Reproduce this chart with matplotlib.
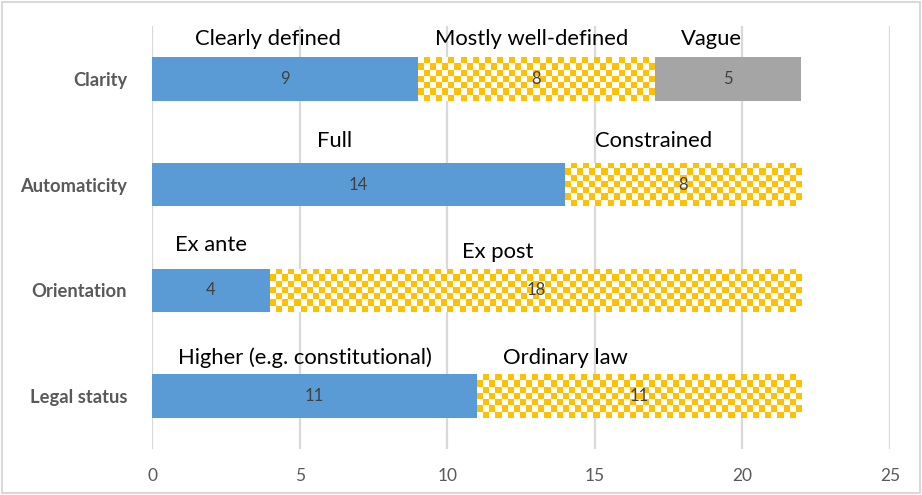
import matplotlib
matplotlib.use('Agg')
import matplotlib.pyplot as plt
from matplotlib.patches import Rectangle
from matplotlib.colors import ListedColormap
import numpy as np

plt.rcParams['font.family'] = ['Lato', 'DejaVu Sans']

categories = ['Clarity', 'Automaticity', 'Orientation', 'Legal status']
clarity = [9, 8, 5]
automaticity = [14, 8]
orientation = [4, 18]
legal_status = [11, 11]
clarity_names = ['Clearly defined', 'Mostly well-defined', 'Vague']
automaticity_names = ['Full', 'Constrained']
orientation_names = ['Ex ante', 'Ex post']
legal_status_names = ['Higher (e.g. constitutional)', 'Ordinary law']

values = [clarity, automaticity, orientation, legal_status]
names = [clarity_names, automaticity_names, orientation_names, legal_status_names]

# where the text boxes sit (x in data units, y offset above bar centre)
name_x = [[3.93, 12.85, 18.95], [6.17, 17.0], [2.0, 11.7], [5.19, 14.0]]
name_dy = [[0.38, 0.38, 0.38], [0.41, 0.41], [0.43, 0.36], [0.36, 0.36]]

blue = '#5b9bd5'
yellow = '#ffc000'
grey = '#a5a5a5'

fig = plt.figure(figsize=(9.22, 4.95), dpi=100)
ax = fig.add_axes([0.1649, 0.0929, 0.8004, 0.8546])

px_per_unit = 738 / 25.0
cell = 6.1 / px_per_unit
bar_h = 0.41
checker_cmap = ListedColormap(['white', yellow])

for i, segs in enumerate(values):
    left = 0
    for j, v in enumerate(segs):
        if j == 1:
            r = ax.barh(i, v, left=left, height=bar_h, color='white', edgecolor='none', zorder=2)[0]
            nx = int(round(v / cell))
            ny = 7
            board = (np.add.outer(np.arange(ny), np.arange(nx)) % 2)
            im = ax.imshow(board, cmap=checker_cmap, interpolation='nearest', aspect='auto',
                           extent=(left, left + v, i + bar_h / 2, i - bar_h / 2), zorder=3)
            im.set_clip_path(r)
        else:
            c = blue if j == 0 else grey
            ax.barh(i, v, left=left, height=bar_h, color=c, edgecolor='none', zorder=2)
        ax.text(left + v / 2.0, i, str(v), ha='center', va='center', fontsize=12,
                color='#404040', zorder=5)
        ax.text(name_x[i][j], i - name_dy[i][j], names[i][j], ha='center', va='center',
                fontsize=15.8, color='black', zorder=5)
        left += v

ax.set_xlim(0, 25)
ax.set_ylim(3.5, -0.5)
ax.set_aspect('auto')
ax.set_xticks([0, 5, 10, 15, 20, 25])
ax.set_yticks(range(len(categories)))
ax.set_yticklabels(categories, fontsize=13.2, fontweight='bold', color='#595959')
ax.tick_params(axis='x', length=0, labelsize=12.5, labelcolor='#595959', pad=14)
ax.tick_params(axis='y', length=0, pad=18)
ax.grid(axis='x', color='#d9d9d9', linewidth=1.6, zorder=0)
ax.set_axisbelow(True)
for s in ax.spines.values():
    s.set_visible(False)

fig.patches.append(Rectangle((0.002, 0.004), 0.996, 0.992, transform=fig.transFigure,
                             fill=False, edgecolor='#d9d9d9', linewidth=1.5))

plt.savefig('out.png', dpi=100)
